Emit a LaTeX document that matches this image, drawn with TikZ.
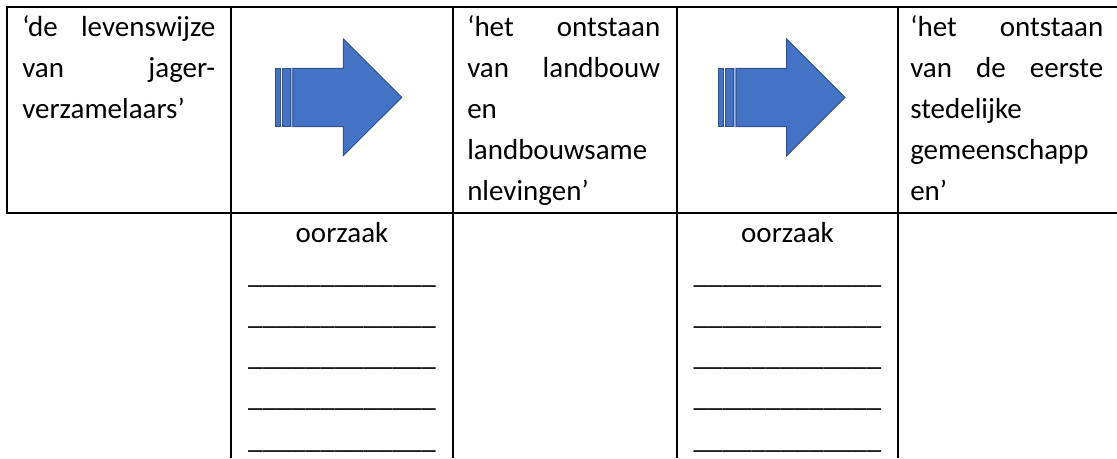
\documentclass[tikz,border=0pt]{standalone}
\usepackage{fontspec}
\setmainfont{Carlito}
\definecolor{arrowfill}{HTML}{4472C4}
\definecolor{arrowline}{HTML}{2F528F}
\begin{document}
\begin{tikzpicture}[x=0.75pt,y=-0.75pt,
  rule/.style={line width=1.5pt,black},
  celltext/.style={anchor=base west,inner sep=0pt,text width=144.75pt,align=left,
    font=\fontsize{21.75pt}{30.75pt}\selectfont},
  causetext/.style={anchor=base,inner sep=0pt,text width=150pt,align=center,
    font=\fontsize{21.75pt}{30.9pt}\selectfont},
  arrowshape/.style={fill=arrowfill,draw=arrowline,line width=0.75pt,line join=miter}]
\useasboundingbox (0,0) rectangle (1117,458);
% table rules
\draw[rule] (1117,7) -- (7,7) -- (7,213) -- (1117,213);
\foreach \cx in {231,453,677,898}{\draw[rule] (\cx,7) -- (\cx,458);}
% cell texts
\node[celltext] (c1) at (22,36) {‘de\hfill levenswijze\\ van\hfill jager-\\ verzamelaars’};
\node[celltext] (c3) at (467,36) {‘het\hfill ontstaan\\ van\hfill landbouw\\ en\\ landbouwsame\\ nlevingen’};
\node[celltext] (c5) at (910,36) {‘het\hfill ontstaan\\ van\hfill de\hfill eerste\\ stedelijke\\ gemeenschapp\\ en’};
% cause cells
\node[causetext] (o1) at (342,242) {oorzaak\\ \_\_\_\_\_\_\_\_\_\_\_\_\_\\ \_\_\_\_\_\_\_\_\_\_\_\_\_\\ \_\_\_\_\_\_\_\_\_\_\_\_\_\\ \_\_\_\_\_\_\_\_\_\_\_\_\_\\ \_\_\_\_\_\_\_\_\_\_\_\_\_};
\node[causetext] (o2) at (787.5,242) {oorzaak\\ \_\_\_\_\_\_\_\_\_\_\_\_\_\\ \_\_\_\_\_\_\_\_\_\_\_\_\_\\ \_\_\_\_\_\_\_\_\_\_\_\_\_\\ \_\_\_\_\_\_\_\_\_\_\_\_\_\\ \_\_\_\_\_\_\_\_\_\_\_\_\_};
% striped arrows
\foreach \ax in {275,718.3}{
\begin{scope}[shift={(\ax,39)}]
  \fill[arrowfill!50!white] (15,29.3) rectangle (18.5,87.7);
  \draw[arrowshape] (0.5,29.3) rectangle (5.2,87.7);
  \draw[arrowshape] (7.6,29.3) rectangle (15.5,87.7);
  \draw[arrowshape] (17.8,29.3) -- (68.3,29.3) -- (68.3,0) -- (126.7,58.35) -- (68.3,116.7) -- (68.3,87.7) -- (17.8,87.7) -- cycle;
\end{scope}}
\end{tikzpicture}
\end{document}
